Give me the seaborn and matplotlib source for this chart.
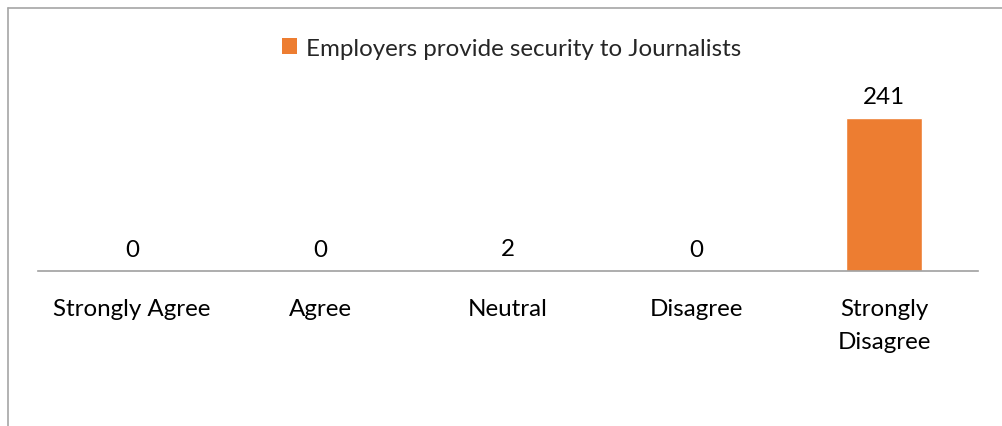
import matplotlib
matplotlib.use("Agg")
import matplotlib.pyplot as plt
import seaborn as sns
import pandas as pd
from matplotlib.lines import Line2D
from matplotlib.patches import Patch

categories = ["Strongly Agree", "Agree", "Neutral", "Disagree", "Strongly\nDisagree"]
values = [0, 0, 2, 0, 241]
series_name = "Employers provide security to Journalists"

sns.set_theme(style="white")
plt.rcParams['font.family'] = ['Lato', 'DejaVu Sans']

W, H = 1003, 427
FS = 17.4
fig = plt.figure(figsize=(W / 100, H / 100), dpi=100)
ax = fig.add_axes([38 / W, 1 - 272 / H, (978 - 38) / W, (272 - 100) / H])

df = pd.DataFrame({"cat": categories, "val": values})
color = "#ED7D31"
sns.barplot(data=df, x="cat", y="val", color=color, saturation=1, width=0.4, ax=ax)

ax.set_ylim(0, 271)
ax.set_xlim(-0.5, len(categories) - 0.5)
for s in ["top", "right", "left"]:
    ax.spines[s].set_visible(False)
ax.spines["bottom"].set_color("#A0A0A0")
ax.spines["bottom"].set_linewidth(1.2)
ax.set_yticks([])
ax.set_xlabel("")
ax.set_ylabel("")
ax.tick_params(axis="x", length=0, pad=19.5, labelsize=FS, colors="black")
for lab in ax.get_xticklabels():
    lab.set_verticalalignment("top")
    lab.set_linespacing(1.68)

for i, v in enumerate(values):
    ax.annotate(str(v), (i, v), xytext=(0, 15.5), textcoords="offset points",
                ha="center", va="center", fontsize=FS, color="black")

handles = [Patch(facecolor=color, edgecolor="none", label=series_name)]
fig.legend(handles=handles, loc="center", bbox_to_anchor=(512 / W, 1 - 49 / H),
           frameon=False, fontsize=FS, handlelength=0.6, handleheight=0.6,
           handletextpad=0.4)

# chart area border (left and top)
fig.add_artist(Line2D([8.5 / W, 8.5 / W], [0, 1 - 9 / H], color="#A6A6A6", lw=1.2))
fig.add_artist(Line2D([8.5 / W, 1], [1 - 9 / H, 1 - 9 / H], color="#A6A6A6", lw=1.2))

fig.savefig("out.png", dpi=100, facecolor="white")
